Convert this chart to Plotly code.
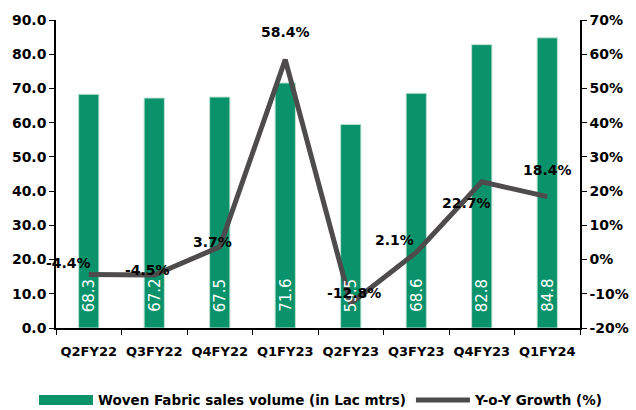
import plotly.graph_objects as go

# Quarterly woven fabric sales volume and year-on-year growth
quarters = ["Q2FY22", "Q3FY22", "Q4FY22", "Q1FY23", "Q2FY23", "Q3FY23", "Q4FY23", "Q1FY24"]
volume_lac_mtrs = [68.3, 67.2, 67.5, 71.6, 59.5, 68.6, 82.8, 84.8]
yoy_growth_pct = [-4.4, -4.5, 3.7, 58.4, -12.8, 2.1, 22.7, 18.4]
growth_ticks = [-20, -10, 0, 10, 20, 30, 40, 50, 60, 70]

# label offsets (pixels) for growth labels, to keep them clear of the line
label_dx = [-20, -7, -7, 0, 3, -22, -15, 0]
label_dy = [12, 5, 5, 28, 10, 12, -21, 27]

FONT = "DejaVu Sans"
GREEN = "#0a926a"
GREY = "#4d4b4b"
VOLUME_NAME = "Woven Fabric sales volume (in Lac mtrs)"

fig = go.Figure()

fig.add_trace(go.Bar(
    x=quarters,
    y=volume_lac_mtrs,
    name=VOLUME_NAME,
    marker=dict(color=GREEN, line=dict(color="#bfe3d3", width=1)),
    width=0.31,
    showlegend=False,
    yaxis="y",
))

# legend swatch for the bars: a wide flat block
fig.add_trace(go.Scatter(
    x=[None], y=[None],
    name=VOLUME_NAME,
    mode="lines",
    line=dict(color=GREEN, width=10),
    yaxis="y",
))

fig.add_trace(go.Scatter(
    x=quarters,
    y=yoy_growth_pct,
    name="Y-o-Y Growth (%)",
    mode="lines",
    line=dict(color=GREY, width=5),
    yaxis="y2",
))

# volume values written upright near the base of each bar
for q, v in zip(quarters, volume_lac_mtrs):
    fig.add_annotation(
        x=q, y=0, yref="y",
        text=f"{v:.1f}",
        showarrow=False,
        textangle=-90,
        yanchor="bottom",
        yshift=14,
        font=dict(family=FONT, size=15, color="white"),
    )

for q, g, dx, dy in zip(quarters, yoy_growth_pct, label_dx, label_dy):
    fig.add_annotation(
        x=q, y=g, yref="y2",
        text=f"{g:.1f}%",
        showarrow=False,
        xshift=dx, yshift=dy,
        font=dict(family=FONT, size=14, color="black", weight="bold"),
    )

tick_font = dict(family=FONT, size=14, color="black", weight="bold")

fig.update_layout(
    width=636, height=410,
    margin=dict(l=56, r=56, t=20, b=82, autoexpand=False),
    paper_bgcolor="white",
    plot_bgcolor="white",
    showlegend=True,
    legend=dict(
        orientation="h",
        x=-0.042, xanchor="left",
        y=-0.184, yanchor="top",
        font=dict(family=FONT, size=13.5, color="black", weight="bold"),
        itemwidth=54,
        tracegroupgap=0,
    ),
    xaxis=dict(
        range=[-0.5, 7.5],
        showline=True, linecolor="black", linewidth=1.5,
        ticks="outside", tickson="boundaries", ticklen=5, tickcolor="black",
        tickfont=dict(family=FONT, size=13, color="black", weight="bold"),
        tickangle=0,
        ticklabelstandoff=11,
        showgrid=False,
    ),
    yaxis=dict(
        range=[0, 90], dtick=10, tickformat=".1f",
        showline=True, linecolor="black", linewidth=1.5,
        ticks="outside", ticklen=5, tickcolor="black",
        tickfont=tick_font,
        showgrid=False, zeroline=False,
    ),
    yaxis2=dict(
        overlaying="y", side="right",
        range=[-20, 70],
        tickvals=growth_ticks,
        ticktext=[f"{t}%" for t in growth_ticks],
        showline=True, linecolor="black", linewidth=1.5,
        ticks="outside", ticklen=5, tickcolor="black",
        tickfont=tick_font,
        showgrid=False, zeroline=False,
    ),
)

fig.write_html("out.html")
